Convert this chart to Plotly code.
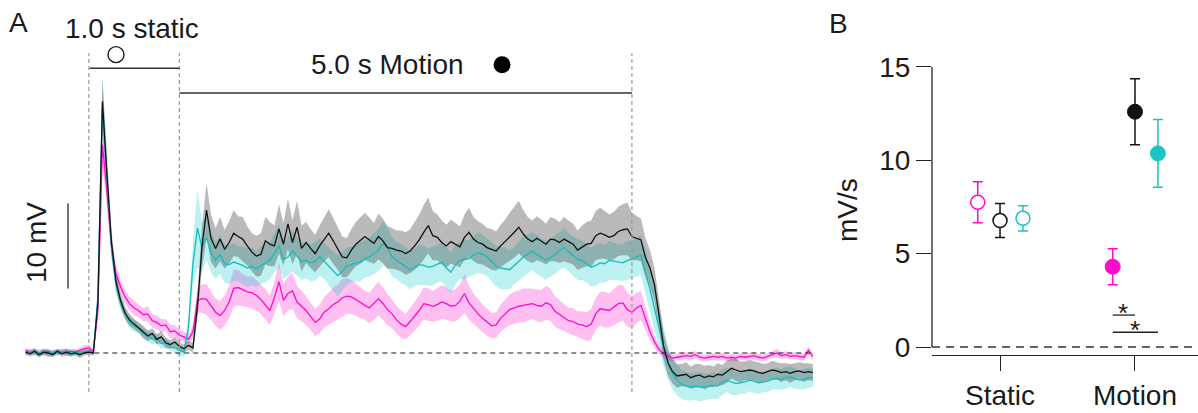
import numpy as np
import plotly.graph_objects as go

# ---------------------------------------------------------------------------
# Panel A: averaged membrane potential (mV) sampled every 50 ms from -0.70 s
# Stimulus onset at 0 s, static grating until 1 s, motion from 1 s to 6 s.
# ---------------------------------------------------------------------------
t = np.round(np.arange(-0.70, 8.0001, 0.05), 2)

black_mv = [
    0.1, -0.1, 0.2, -0.2, 0.1, 0.0, -0.2, 0.2, -0.1, 0.1, -0.1, 0.0, -0.2, 0.0,
    0.1, 0.0, 6.0, 29.6, 21.0, 13.0, 8.4, 6.2, 4.7, 3.9, 3.4, 3.0, 2.5, 2.0, 2.3, 1.6, 1.9, 1.2, 1.0, 1.3,
    0.8, 0.5, 0.9, 0.6, 5.5, 12.5, 16.8, 13.5, 12.3, 13.4, 12.2, 13.0, 14.1, 13.7, 13.4, 12.6, 11.9, 11.4, 11.6, 13.2,
    12.8, 12.6, 14.6, 12.8, 15.2, 13.0, 14.8, 12.3, 13.0, 12.3, 11.7, 12.6, 13.4, 14.1, 13.2, 12.3, 11.3, 11.2, 12.1, 12.8,
    13.2, 13.7, 13.3, 12.9, 13.7, 13.2, 12.4, 12.3, 12.1, 12.0, 11.7, 12.0, 12.6, 13.3, 14.2, 15.0, 13.8, 13.6, 13.0, 12.6,
    13.1, 12.8, 12.5, 13.6, 14.2, 13.4, 13.0, 12.8, 12.4, 12.2, 12.0, 12.6, 13.1, 13.7, 14.2, 14.8, 14.0, 13.4, 13.1, 13.5,
    13.2, 12.8, 13.4, 13.3, 13.0, 13.4, 13.1, 12.8, 12.1, 12.5, 12.8, 12.9, 13.8, 14.1, 13.9, 13.6, 13.8, 14.3, 14.5, 14.6,
    13.7, 13.5, 13.3, 11.2, 10.0, 8.0, 4.5, 0.8, -1.2, -2.2, -2.7, -2.6, -2.5, -2.9, -2.7, -2.6, -2.9, -2.7, -2.8, -2.5,
    -2.6, -2.2, -1.8, -2.0, -2.2, -2.1, -2.0, -2.1, -2.3, -2.4, -2.2, -2.0, -2.1, -2.3, -2.2, -2.4, -2.2, -2.1, -2.3, -2.2,
    -2.3,
]
black_sem = [
    0.3, 0.3, 0.4, 0.3, 0.3, 0.4, 0.3, 0.3, 0.3, 0.4, 0.3, 0.3, 0.4, 0.3,
    0.3, 0.3, 1.5, 2.8, 2.0, 1.4, 1.0, 0.8, 0.7, 0.7, 0.6, 0.6, 0.7, 0.6, 0.6, 0.6, 0.7, 0.6, 0.5, 0.6,
    0.5, 0.5, 0.5, 0.6, 1.5, 2.4, 3.2, 2.8, 2.4, 2.6, 2.3, 2.5, 2.7, 2.4, 2.6, 2.3, 2.2, 2.4, 2.5, 2.8,
    2.6, 2.4, 2.9, 2.5, 3.0, 2.6, 3.1, 2.7, 2.4, 2.3, 2.2, 2.4, 2.6, 2.8, 2.7, 2.5, 2.4, 2.3, 2.5, 2.6,
    2.7, 2.8, 2.6, 2.4, 2.7, 2.6, 2.5, 2.4, 2.3, 2.4, 2.5, 2.6, 2.8, 3.0, 3.2, 3.3, 2.9, 2.7, 2.6, 2.5,
    2.6, 2.5, 2.4, 2.7, 2.9, 2.6, 2.5, 2.4, 2.3, 2.4, 2.3, 2.5, 2.6, 2.8, 3.0, 3.1, 2.8, 2.6, 2.5, 2.6,
    2.5, 2.4, 2.6, 2.5, 2.4, 2.6, 2.5, 2.4, 2.3, 2.5, 2.6, 2.7, 2.9, 3.0, 2.8, 2.7, 2.8, 2.9, 3.0, 3.1,
    2.8, 2.6, 2.5, 2.3, 2.1, 2.0, 1.8, 1.6, 1.5, 1.4, 1.4, 1.3, 1.4, 1.3, 1.4, 1.3, 1.4, 1.3, 1.2, 1.3,
    1.2, 1.3, 1.2, 1.3, 1.2, 1.1, 1.2, 1.1, 1.2, 1.1, 1.0, 1.1, 1.0, 1.1, 1.0, 1.1, 1.0, 1.0, 1.1, 1.0,
    1.0,
]

cyan_mv = [
    0.0, 0.2, 0.1, 0.0, 0.2, -0.1, 0.1, 0.0, 0.2, 0.1, 0.0, 0.1, 0.0, 0.2,
    0.2, 0.1, 6.5, 29.2, 20.5, 12.5, 8.0, 5.9, 4.6, 3.6, 3.2, 2.9, 2.3, 2.1, 1.6, 1.7, 1.1, 1.2, 0.7, 0.6,
    0.3, 0.1, 3.0, 10.5, 14.7, 12.4, 13.6, 11.8, 10.9, 11.6, 10.5, 10.4, 10.7, 10.5, 10.3, 10.0, 10.2, 9.9, 10.3, 10.6,
    10.9, 11.8, 12.6, 11.0, 11.3, 12.0, 11.4, 10.8, 10.9, 10.6, 10.8, 11.3, 10.8, 10.2, 9.6, 9.1, 9.6, 10.2, 10.4, 10.6,
    10.7, 11.1, 11.3, 11.7, 12.1, 12.9, 12.4, 11.3, 10.9, 10.5, 10.2, 9.8, 10.1, 10.4, 10.3, 10.1, 10.2, 10.5, 10.7, 10.0,
    9.5, 10.4, 10.9, 11.0, 11.1, 11.5, 11.8, 11.6, 11.3, 10.8, 10.2, 10.0, 9.9, 9.8, 10.3, 10.8, 11.3, 11.6, 12.0, 11.6,
    11.2, 10.9, 11.2, 11.6, 12.0, 12.4, 11.9, 11.4, 11.0, 10.9, 10.5, 10.1, 10.3, 10.6, 10.5, 10.9, 10.8, 10.7, 10.6, 10.9,
    11.0, 11.3, 11.5, 9.4, 7.5, 5.2, 3.0, 0.6, -1.2, -2.4, -3.2, -3.7, -3.9, -4.0, -3.9, -4.0, -4.0, -3.9, -3.8, -3.9,
    -3.4, -3.2, -3.4, -3.6, -3.5, -3.4, -3.2, -3.3, -3.5, -3.4, -3.3, -3.1, -3.0, -3.1, -2.9, -2.8, -3.0, -3.2, -3.1, -2.9,
    -2.9,
]
cyan_sem = [
    0.3, 0.3, 0.3, 0.4, 0.3, 0.3, 0.3, 0.4, 0.3, 0.3, 0.4, 0.3, 0.3, 0.3,
    0.3, 0.3, 1.6, 3.2, 2.2, 1.5, 1.0, 0.8, 0.7, 0.7, 0.7, 0.6, 0.6, 0.7, 0.6, 0.6, 0.6, 0.6, 0.5, 0.6,
    0.6, 0.6, 1.2, 2.6, 4.6, 3.0, 2.6, 2.4, 2.2, 2.3, 2.2, 2.3, 2.2, 2.1, 2.2, 2.3, 2.2, 2.1, 2.2, 2.3,
    2.2, 2.3, 2.5, 2.3, 2.2, 2.4, 2.3, 2.2, 2.1, 2.2, 2.3, 2.2, 2.1, 2.2, 2.3, 2.4, 2.3, 2.2, 2.1, 2.2,
    2.3, 2.2, 2.3, 2.4, 2.5, 2.6, 2.4, 2.3, 2.2, 2.3, 2.2, 2.3, 2.2, 2.4, 2.3, 2.2, 2.3, 2.2, 2.3, 2.4,
    2.4, 2.3, 2.2, 2.3, 2.2, 2.3, 2.4, 2.3, 2.2, 2.3, 2.4, 2.5, 2.4, 2.3, 2.2, 2.3, 2.4, 2.3, 2.2, 2.3,
    2.2, 2.3, 2.2, 2.3, 2.2, 2.3, 2.2, 2.3, 2.4, 2.3, 2.2, 2.3, 2.4, 2.3, 2.2, 2.3, 2.2, 2.1, 2.2, 2.3,
    2.2, 2.3, 2.4, 2.6, 2.6, 2.5, 2.4, 2.2, 2.0, 1.9, 1.8, 1.7, 1.7, 1.6, 1.6, 1.7, 1.6, 1.5, 1.6, 1.5,
    1.5, 1.4, 1.5, 1.4, 1.3, 1.4, 1.3, 1.4, 1.3, 1.2, 1.3, 1.2, 1.3, 1.2, 1.3, 1.2, 1.2, 1.1, 1.2, 1.2,
    1.1,
]

magenta_mv = [
    0.3, 0.1, 0.2, 0.0, 0.1, 0.2, 0.0, 0.1, 0.2, 0.1, 0.2, 0.1, 0.3, 0.5,
    0.6, 0.2, 5.0, 24.5, 19.0, 12.5, 9.3, 7.8, 6.6, 5.8, 5.3, 5.0, 4.5, 4.6, 3.8, 3.6, 3.2, 3.3, 2.5, 2.6,
    2.1, 1.9, 1.6, 2.5, 6.2, 6.4, 6.3, 5.6, 4.8, 4.4, 5.0, 6.0, 7.6, 7.7, 7.4, 7.2, 7.1, 6.8, 6.3, 5.7,
    5.0, 6.5, 8.4, 6.2, 7.0, 7.3, 6.0, 5.5, 5.0, 4.3, 3.6, 4.0, 4.8, 5.2, 5.7, 6.0, 6.5, 6.7, 6.6, 6.3,
    5.9, 5.6, 5.3, 5.8, 6.4, 5.8, 5.1, 4.6, 3.9, 3.4, 3.1, 3.7, 4.3, 5.0, 5.8, 5.7, 5.5, 5.7, 6.0, 5.8,
    5.5, 5.6, 6.1, 7.0, 5.9, 5.2, 4.6, 4.1, 3.6, 3.2, 3.3, 4.1, 4.6, 5.1, 5.3, 5.5, 5.6, 5.7, 5.8, 5.6,
    5.5, 5.9, 5.7, 4.9, 4.5, 4.2, 3.8, 3.7, 3.4, 3.3, 3.1, 3.4, 4.6, 5.2, 5.1, 5.0, 5.4, 5.8, 5.9, 5.1,
    4.8, 5.3, 5.6, 4.0, 2.5, 1.3, 0.4, -0.1, -0.4, -0.6, -0.5, -0.4, -0.3, -0.4, -0.2, -0.5, -0.6, -0.5, -0.4, -0.5,
    -0.4, -0.6, -0.5, -0.6, -0.4, -0.5, -0.4, -0.3, -0.5, -0.6, -0.4, -0.2, 0.0, -0.3, -0.2, -0.4, -0.3, -0.4, -0.5, 0.3,
    -0.4,
]
magenta_sem = [
    0.3, 0.3, 0.3, 0.3, 0.4, 0.3, 0.3, 0.3, 0.3, 0.4, 0.3, 0.3, 0.3, 0.4,
    0.4, 0.3, 1.0, 2.0, 1.6, 1.2, 1.0, 0.9, 0.9, 0.8, 0.9, 0.8, 0.8, 0.9, 0.8, 0.8, 0.8, 0.7, 0.8, 0.7,
    0.7, 0.6, 0.6, 0.8, 1.5, 1.7, 1.8, 1.7, 1.6, 1.7, 1.8, 1.9, 2.2, 2.1, 1.9, 1.8, 1.9, 1.8, 1.7, 1.8,
    1.7, 1.9, 2.3, 1.9, 2.0, 2.1, 1.9, 1.8, 1.7, 1.6, 1.6, 1.7, 1.8, 1.9, 2.0, 2.1, 2.2, 2.1, 2.0, 1.9,
    1.8, 1.7, 1.8, 1.9, 2.0, 1.9, 1.8, 1.7, 1.6, 1.6, 1.5, 1.6, 1.7, 1.8, 1.9, 1.9, 1.8, 1.9, 2.0, 1.9,
    1.8, 1.9, 2.0, 2.3, 2.0, 1.8, 1.7, 1.6, 1.6, 1.5, 1.5, 1.6, 1.7, 1.8, 1.9, 1.9, 2.0, 1.9, 1.8, 1.9,
    1.9, 2.0, 1.9, 1.8, 1.7, 1.6, 1.5, 1.6, 1.5, 1.6, 1.7, 1.8, 1.9, 2.0, 2.1, 2.0, 2.1, 2.2, 2.1, 2.0,
    1.9, 1.8, 1.7, 1.4, 1.0, 0.7, 0.5, 0.5, 0.4, 0.4, 0.4, 0.4, 0.4, 0.5, 0.4, 0.4, 0.4, 0.4, 0.4, 0.4,
    0.4, 0.4, 0.4, 0.4, 0.4, 0.4, 0.4, 0.4, 0.4, 0.4, 0.4, 0.4, 0.5, 0.4, 0.4, 0.4, 0.4, 0.4, 0.4, 0.5,
    0.4,
]

# stimulus epochs (s)
static_on, static_off, motion_off = 0.0, 1.0, 6.0

# ---------------------------------------------------------------------------
# Panel B: depolarisation rate (mV/s), mean +/- SEM, order magenta/black/cyan
# ---------------------------------------------------------------------------
conditions = ["Static", "Motion"]
static_rate = [7.75, 6.77, 6.89]
static_err = [1.10, 0.91, 0.68]
motion_rate = [4.30, 12.60, 10.37]
motion_err = [0.96, 1.77, 1.81]
rate_ticks = [0, 5, 10, 15]

# ---------------------------------------------------------------------------
W, H = 1198, 413
FONT = "Liberation Sans, Arial, Helvetica, sans-serif"
INK = "#1a1a1a"

MAGENTA = "#ff0ac8"
CYAN = "#14bcbc"
BLACK = "#111111"
bands = {
    "magenta": "rgba(255,0,200,0.25)",
    "cyan": "rgba(0,200,200,0.26)",
    "black": "rgba(40,40,40,0.32)",
}


def px(x):
    return x / W


def py(y):
    return (H - y) / H


fig = go.Figure()

series = [
    ("magenta", magenta_mv, magenta_sem, MAGENTA),
    ("cyan", cyan_mv, cyan_sem, CYAN),
    ("black", black_mv, black_sem, BLACK),
]

# shaded SEM envelopes
for name, mv, sem, col in series:
    mv = np.asarray(mv)
    sem = np.asarray(sem)
    upper = mv + sem
    lower = mv - sem
    fig.add_trace(go.Scatter(
        x=np.concatenate([t, t[::-1]]),
        y=np.concatenate([upper, lower[::-1]]),
        fill="toself", fillcolor=bands[name], mode="lines",
        line=dict(width=0), hoverinfo="skip", showlegend=False,
        xaxis="x", yaxis="y",
    ))

# mean traces
for name, mv, sem, col in series:
    fig.add_trace(go.Scatter(
        x=t, y=mv, mode="lines", line=dict(color=col, width=1.3),
        showlegend=False, xaxis="x", yaxis="y",
    ))

# epoch symbols above the stimulus bars
fig.add_trace(go.Scatter(
    x=[0.30], y=[35.1], mode="markers",
    marker=dict(symbol="circle", size=16, color="white",
                line=dict(color=INK, width=1.4)),
    showlegend=False, xaxis="x", yaxis="y", cliponaxis=False,
))
fig.add_trace(go.Scatter(
    x=[4.565], y=[33.9], mode="markers",
    marker=dict(symbol="circle", size=17, color="black"),
    showlegend=False, xaxis="x", yaxis="y", cliponaxis=False,
))

# panel B points
offsets = [-0.165, 0.0, 0.17]
colors_b = [MAGENTA, "#111111", "#1cc4c4"]
for i in range(3):
    fig.add_trace(go.Scatter(
        x=[0 + offsets[i]], y=[static_rate[i]], mode="markers",
        marker=dict(symbol="circle", size=14, color="white",
                    line=dict(color=colors_b[i], width=1.5)),
        error_y=dict(type="data", array=[static_err[i]], color=colors_b[i],
                     thickness=1.5, width=5),
        showlegend=False, xaxis="x2", yaxis="y2",
    ))
    fig.add_trace(go.Scatter(
        x=[1 + offsets[i]], y=[motion_rate[i]], mode="markers",
        marker=dict(symbol="circle", size=15, color=colors_b[i],
                    line=dict(color=colors_b[i], width=1)),
        error_y=dict(type="data", array=[motion_err[i]], color=colors_b[i],
                     thickness=1.5, width=5),
        showlegend=False, xaxis="x2", yaxis="y2",
    ))

shapes = []
# epoch boundaries
for tv in (static_on, static_off, motion_off):
    shapes.append(dict(type="line", xref="x", yref="y", x0=tv, x1=tv,
                       y0=-4.6, y1=35.3,
                       line=dict(color="#9a9a9a", width=1.2, dash="4px,3px")))
# resting baseline
shapes.append(dict(type="line", xref="x", yref="y", x0=0.06, x1=8.0, y0=0, y1=0,
                   line=dict(color=INK, width=1.2, dash="5px,4px")))
# stimulus bars
shapes.append(dict(type="line", xref="x", yref="y", x0=static_on + 0.01, x1=static_off,
                   y0=33.5, y1=33.5, line=dict(color="#333", width=1.5)))
shapes.append(dict(type="line", xref="x", yref="y", x0=static_off, x1=motion_off,
                   y0=30.6, y1=30.6, line=dict(color="#333", width=1.5)))
# 10 mV scale bar
shapes.append(dict(type="line", xref="x", yref="y", x0=-0.23, x1=-0.23,
                   y0=7.6, y1=17.6, line=dict(color="#444", width=1.5)))

# panel B: detached y axis spine, zero reference, significance bars
shapes.append(dict(type="line", xref="x2 domain", yref="y2", x0=0, x1=0, y0=0, y1=15,
                   line=dict(color="#222", width=1.3)))
shapes.append(dict(type="line", xref="x2 domain", yref="y2", x0=0, x1=1, y0=0, y1=0,
                   line=dict(color="#333", width=1.3, dash="8px,6px")))
shapes.append(dict(type="line", xref="x2", yref="y2", x0=1 + offsets[0], x1=1 + offsets[1],
                   y0=1.71, y1=1.71, line=dict(color="#222", width=1.3)))
shapes.append(dict(type="line", xref="x2", yref="y2", x0=1 + offsets[0], x1=1 + offsets[2],
                   y0=0.79, y1=0.79, line=dict(color="#222", width=1.3)))

big = dict(family=FONT, size=28, color=INK)
star = dict(family=FONT, size=26, color=INK)
annotations = [
    dict(text="A", x=px(18), y=py(22), xref="paper", yref="paper", showarrow=False,
         xanchor="center", yanchor="middle", font=big),
    dict(text="B", x=px(838), y=py(23), xref="paper", yref="paper", showarrow=False,
         xanchor="center", yanchor="middle", font=big),
    dict(text="1.0 s static", x=px(132), y=py(28), xref="paper", yref="paper",
         showarrow=False, xanchor="center", yanchor="middle", font=big),
    dict(text="5.0 s Motion", x=px(387), y=py(65), xref="paper", yref="paper",
         showarrow=False, xanchor="center", yanchor="middle", font=big),
    dict(text="10 mV", x=px(37), y=py(243), xref="paper", yref="paper", textangle=-90,
         showarrow=False, xanchor="center", yanchor="middle", font=big),
    dict(text="mV/s", x=px(847), y=py(210), xref="paper", yref="paper", textangle=-90,
         showarrow=False, xanchor="center", yanchor="middle", font=big),
    dict(text="*", x=0.911, y=1.71, xref="x2", yref="y2", showarrow=False,
         xanchor="center", yanchor="middle", yshift=2, font=star),
    dict(text="*", x=1.0, y=0.79, xref="x2", yref="y2", showarrow=False,
         xanchor="center", yanchor="middle", yshift=2, font=star),
]

fig.update_layout(
    width=W, height=H,
    margin=dict(l=0, r=0, t=0, b=0, autoexpand=False),
    paper_bgcolor="white", plot_bgcolor="white",
    showlegend=False,
    font=dict(family=FONT, color=INK),
    xaxis=dict(domain=[px(20), px(830)], range=[-0.7607, 8.1886], visible=False,
               automargin=False),
    yaxis=dict(domain=[py(405), py(40)], range=[-6.1176, 36.8235], visible=False,
               automargin=False),
    xaxis2=dict(domain=[px(932), 1.0], range=[-0.504, 1.467], anchor="y2",
                showline=True, linecolor="#222", linewidth=1.3,
                ticks="outside", ticklen=15, tickwidth=1.3, tickcolor="#222",
                tickvals=[0, 1], ticktext=conditions, tickfont=big,
                showgrid=False, zeroline=False, automargin=False),
    yaxis2=dict(domain=[py(355), py(40)], range=[-0.4286, 16.44], anchor="x2",
                showline=False, ticks="outside", ticklen=15, tickwidth=1.3,
                tickcolor="#222", tickvals=rate_ticks, tickfont=big,
                showgrid=False, zeroline=False, automargin=False),
    shapes=shapes,
    annotations=annotations,
)

fig.write_html("out.html")
